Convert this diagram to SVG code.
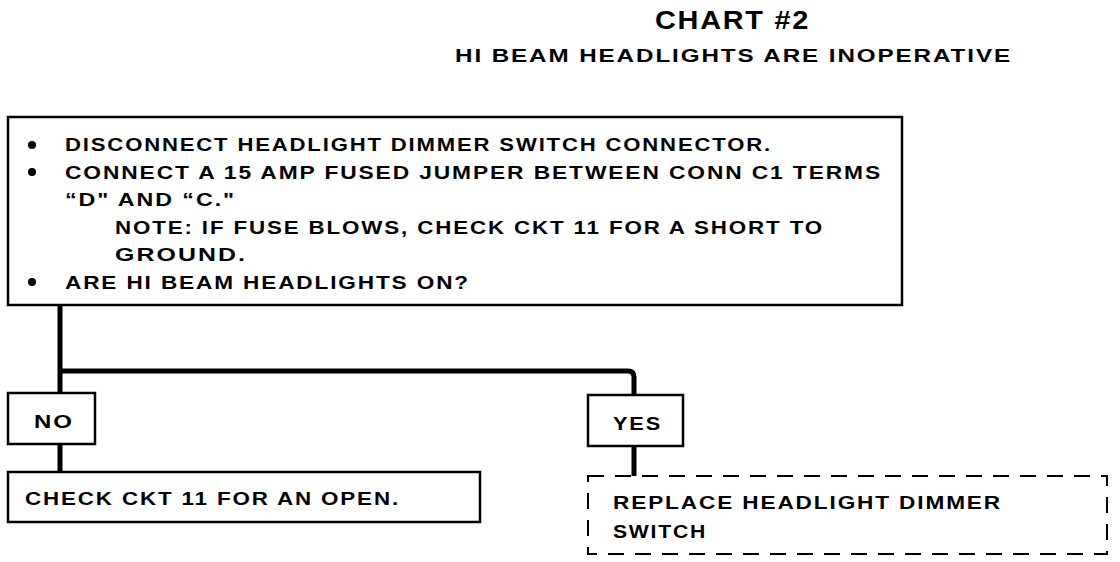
<svg xmlns="http://www.w3.org/2000/svg" width="1120" height="562" viewBox="0 0 1120 562">
<style>
.t{font-family:"Liberation Sans",Arial,sans-serif;font-weight:bold;fill:#000;font-size:18px;letter-spacing:1.5px}
.box{fill:#fff;stroke:#000;stroke-width:2.5}
.dash{fill:#fff;stroke:#000;stroke-width:2;stroke-dasharray:16 11}
.con{fill:none;stroke:#000;stroke-width:5;stroke-linejoin:round}
</style>
<rect width="1120" height="562" fill="#fff"/>
<g id="title">
<text class="t" x="655" y="29" textLength="155" lengthAdjust="spacingAndGlyphs" style="font-size:25px">CHART #2</text>
<text class="t" x="455" y="62" textLength="557" lengthAdjust="spacingAndGlyphs" style="font-size:19px">HI BEAM HEADLIGHTS ARE INOPERATIVE</text>
</g>
<g id="connectors">
<path class="con" d="M60 305 V393"/>
<path class="con" d="M60 371 H628 Q634 371 634 377 V395"/>
<path class="con" d="M60 444 V472"/>
<path class="con" d="M634 446 V476"/>
</g>
<g id="main">
<rect class="box" x="8" y="117" width="894" height="188"/>
<circle cx="32" cy="145" r="4"/>
<circle cx="32" cy="172" r="4"/>
<circle cx="32" cy="282" r="4"/>
<text class="t" x="65" y="151" textLength="707" lengthAdjust="spacingAndGlyphs">DISCONNECT HEADLIGHT DIMMER SWITCH CONNECTOR.</text>
<text class="t" x="65" y="179" textLength="817" lengthAdjust="spacingAndGlyphs">CONNECT A 15 AMP FUSED JUMPER BETWEEN CONN C1 TERMS</text>
<text class="t" x="65" y="206" textLength="171" lengthAdjust="spacingAndGlyphs">“D" AND “C."</text>
<text class="t" x="115" y="234" textLength="709" lengthAdjust="spacingAndGlyphs">NOTE: IF FUSE BLOWS, CHECK CKT 11 FOR A SHORT TO</text>
<text class="t" x="115" y="261" textLength="132" lengthAdjust="spacingAndGlyphs">GROUND.</text>
<text class="t" x="65" y="289" textLength="405" lengthAdjust="spacingAndGlyphs">ARE HI BEAM HEADLIGHTS ON?</text>
</g>
<g id="no">
<rect class="box" x="8" y="393" width="87" height="51"/>
<text class="t" x="34" y="428" textLength="40" lengthAdjust="spacingAndGlyphs">NO</text>
</g>
<g id="yes">
<rect class="box" x="588" y="395" width="95" height="51"/>
<text class="t" x="613" y="430" textLength="49" lengthAdjust="spacingAndGlyphs">YES</text>
</g>
<g id="open">
<rect class="box" x="8" y="472" width="472" height="50"/>
<text class="t" x="25" y="505" textLength="375" lengthAdjust="spacingAndGlyphs">CHECK CKT 11 FOR AN OPEN.</text>
</g>
<g id="replace">
<rect class="dash" x="588" y="476" width="519" height="78"/>
<text class="t" x="613" y="509" textLength="389" lengthAdjust="spacingAndGlyphs">REPLACE HEADLIGHT DIMMER</text>
<text class="t" x="613" y="538" textLength="94" lengthAdjust="spacingAndGlyphs">SWITCH</text>
</g>
</svg>
